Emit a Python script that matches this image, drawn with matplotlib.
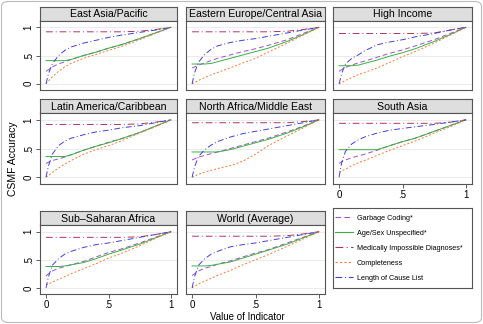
import matplotlib
matplotlib.use("Agg")
import matplotlib.pyplot as plt
from matplotlib.patches import FancyBboxPatch
from matplotlib.lines import Line2D

plt.rcParams['font.family'] = ['Liberation Sans', 'DejaVu Sans']

# ---- data ----
x_vals = [0, 0.02, 0.05, 0.1, 0.15, 0.2, 0.3, 0.4, 0.5, 0.6, 0.75, 0.875, 1]

regions = ['East Asia/Pacific', 'Eastern Europe/Central Asia', 'High Income',
           'Latin America/Caribbean', 'North Africa/Middle East', 'South Asia',
           'Sub\u2013Saharan Africa', 'World (Average)']

garbage = [
    [0.22, 0.25, 0.30, 0.35, 0.39, 0.43, 0.50, 0.56, 0.63, 0.69, 0.80, 0.90, 1],
    [0.28, 0.30, 0.33, 0.37, 0.41, 0.45, 0.51, 0.57, 0.62, 0.68, 0.78, 0.89, 1],
    [0.22, 0.25, 0.29, 0.33, 0.37, 0.40, 0.47, 0.54, 0.60, 0.67, 0.78, 0.89, 1],
    [0.24, 0.26, 0.29, 0.32, 0.35, 0.39, 0.47, 0.54, 0.61, 0.67, 0.78, 0.89, 1],
    [0.30, 0.32, 0.35, 0.38, 0.41, 0.44, 0.50, 0.56, 0.62, 0.68, 0.79, 0.89, 1],
    [0.24, 0.27, 0.30, 0.34, 0.37, 0.40, 0.47, 0.55, 0.62, 0.68, 0.80, 0.90, 1],
    [0.21, 0.25, 0.30, 0.35, 0.38, 0.41, 0.47, 0.55, 0.63, 0.69, 0.80, 0.90, 1],
    [0.22, 0.25, 0.30, 0.35, 0.38, 0.42, 0.48, 0.55, 0.62, 0.68, 0.80, 0.90, 1],
]
agesex = [
    [0.41, 0.41, 0.41, 0.41, 0.41, 0.43, 0.50, 0.56, 0.63, 0.69, 0.80, 0.90, 1],
    [0.35, 0.35, 0.35, 0.35, 0.36, 0.39, 0.45, 0.51, 0.57, 0.63, 0.75, 0.87, 1],
    [0.32, 0.32, 0.32, 0.32, 0.33, 0.36, 0.42, 0.49, 0.55, 0.62, 0.75, 0.87, 1],
    [0.36, 0.36, 0.36, 0.36, 0.36, 0.39, 0.47, 0.54, 0.60, 0.67, 0.78, 0.89, 1],
    [0.44, 0.44, 0.44, 0.44, 0.44, 0.44, 0.48, 0.54, 0.60, 0.66, 0.77, 0.88, 1],
    [0.48, 0.48, 0.48, 0.48, 0.48, 0.48, 0.48, 0.55, 0.62, 0.68, 0.80, 0.90, 1],
    [0.38, 0.38, 0.38, 0.38, 0.39, 0.41, 0.45, 0.52, 0.60, 0.67, 0.78, 0.89, 1],
    [0.39, 0.39, 0.39, 0.39, 0.40, 0.42, 0.46, 0.53, 0.60, 0.67, 0.78, 0.89, 1],
]
med_impossible = [
    [0.92, 0.92, 0.92, 0.92, 0.92, 0.92, 0.92, 0.92, 0.92, 0.92, 0.93, 0.96, 1],
    [0.92, 0.92, 0.92, 0.92, 0.92, 0.92, 0.92, 0.92, 0.92, 0.92, 0.93, 0.96, 1],
    [0.89, 0.89, 0.89, 0.89, 0.89, 0.89, 0.89, 0.89, 0.89, 0.89, 0.90, 0.95, 1],
    [0.92, 0.92, 0.92, 0.92, 0.92, 0.92, 0.92, 0.92, 0.92, 0.92, 0.93, 0.96, 1],
    [0.95, 0.95, 0.95, 0.95, 0.95, 0.95, 0.95, 0.95, 0.95, 0.95, 0.95, 0.97, 1],
    [0.94, 0.94, 0.94, 0.94, 0.94, 0.94, 0.94, 0.94, 0.94, 0.94, 0.94, 0.96, 1],
    [0.90, 0.90, 0.90, 0.90, 0.90, 0.90, 0.90, 0.90, 0.90, 0.90, 0.91, 0.95, 1],
    [0.92, 0.92, 0.92, 0.92, 0.92, 0.92, 0.92, 0.92, 0.92, 0.92, 0.93, 0.96, 1],
]
completeness = [
    [0.00, 0.05, 0.12, 0.22, 0.30, 0.36, 0.45, 0.52, 0.59, 0.66, 0.78, 0.89, 1],
    [0.00, 0.02, 0.06, 0.11, 0.16, 0.20, 0.28, 0.37, 0.45, 0.56, 0.72, 0.86, 1],
    [0.00, 0.02, 0.06, 0.11, 0.16, 0.20, 0.28, 0.38, 0.48, 0.57, 0.72, 0.86, 1],
    [0.00, 0.03, 0.08, 0.16, 0.23, 0.29, 0.40, 0.48, 0.55, 0.63, 0.77, 0.88, 1],
    [0.00, 0.02, 0.05, 0.09, 0.12, 0.15, 0.20, 0.28, 0.40, 0.55, 0.72, 0.86, 1],
    [0.09, 0.11, 0.14, 0.20, 0.25, 0.29, 0.38, 0.47, 0.55, 0.63, 0.77, 0.88, 1],
    [0.05, 0.07, 0.10, 0.15, 0.20, 0.25, 0.34, 0.43, 0.53, 0.61, 0.75, 0.88, 1],
    [0.00, 0.03, 0.07, 0.12, 0.17, 0.22, 0.31, 0.41, 0.50, 0.59, 0.74, 0.87, 1],
]
cause_list = [
    [0.00, 0.18, 0.35, 0.50, 0.59, 0.65, 0.72, 0.77, 0.82, 0.86, 0.91, 0.95, 1],
    [0.00, 0.20, 0.38, 0.52, 0.61, 0.67, 0.73, 0.77, 0.80, 0.84, 0.90, 0.95, 1],
    [0.00, 0.18, 0.35, 0.45, 0.51, 0.58, 0.69, 0.74, 0.78, 0.83, 0.89, 0.95, 1],
    [0.00, 0.20, 0.40, 0.55, 0.63, 0.68, 0.74, 0.79, 0.82, 0.86, 0.90, 0.95, 1],
    [0.00, 0.18, 0.36, 0.48, 0.56, 0.62, 0.70, 0.76, 0.80, 0.84, 0.90, 0.95, 1],
    [0.00, 0.25, 0.45, 0.58, 0.65, 0.70, 0.77, 0.82, 0.85, 0.88, 0.92, 0.96, 1],
    [0.00, 0.20, 0.40, 0.52, 0.60, 0.65, 0.72, 0.77, 0.80, 0.84, 0.90, 0.95, 1],
    [0.00, 0.20, 0.40, 0.52, 0.60, 0.65, 0.73, 0.77, 0.80, 0.84, 0.90, 0.95, 1],
]

series = [
    ('Garbage Coding*', garbage, '#a050c8', (0, (5, 3))),
    ('Age/Sex Unspecified*', agesex, '#3cb043', '-'),
    ('Medically Impossible Diagnoses*', med_impossible, '#b03458', (0, (7, 3, 1, 3))),
    ('Completeness', completeness, '#f07c3c', (0, (2, 2))),
    ('Length of Cause List', cause_list, '#4040d0', (0, (6, 2.5, 1, 2.5))),
]

# ---- layout (pixels) ----
W, H = 483, 324
fig = plt.figure(figsize=(W / 100, H / 100), dpi=100)
fig.patch.set_facecolor('white')
fig.patches.append(FancyBboxPatch((1.5 / W, 1.5 / H), (W - 3) / W, (H - 3) / H,
                                  boxstyle='round,pad=0,rounding_size=0.015',
                                  transform=fig.transFigure, fc='none',
                                  ec='#bbbbbb', lw=0.8))

cols = [(40, 177), (186, 325), (333, 472)]
rows = [(6.5, 20.5, 90), (99, 113, 183.5), (211, 225, 294)]
edge = '#555555'


def px_axes(x0, x1, y0, y1):
    return fig.add_axes([x0 / W, 1 - y1 / H, (x1 - x0) / W, (y1 - y0) / H])


for i, name in enumerate(regions):
    r, c = divmod(i, 3)
    x0, x1 = cols[c]
    st, sb, pb = rows[r]

    sax = px_axes(x0, x1, st, sb)
    sax.set_facecolor('#dedede')
    sax.set_xticks([])
    sax.set_yticks([])
    for sp in sax.spines.values():
        sp.set_color(edge)
        sp.set_linewidth(0.8)
    sax.text(0.5, 0.45, name, ha='center', va='center', fontsize=7.6,
             transform=sax.transAxes)

    ax = px_axes(x0, x1, sb, pb)
    for y in (0, 0.5, 1):
        ax.axhline(y, color='#e8e8e8', lw=0.6, zorder=0)
    for label, data, color, ls in series:
        ax.plot(x_vals, data[i], color=color, ls=ls, lw=0.7)
    ax.set_xlim(-0.048, 1.048)
    ax.set_ylim(-0.11, 1.12)
    for sp in ax.spines.values():
        sp.set_color(edge)
        sp.set_linewidth(0.8)
    ax.tick_params(length=3, width=0.6, color='#444444', labelsize=7, pad=1.5)

    if c == 0:
        ax.set_yticks([0, 0.5, 1])
        ax.set_yticklabels(['0', '.5', '1'], rotation=90, va='center')
    else:
        ax.set_yticks([])
    if r == 2 or (r == 1 and c == 2):
        ax.set_xticks([0, 0.5, 1])
        ax.set_xticklabels(['0', '.5', '1'])
    else:
        ax.set_xticks([])

# legend box
lax = px_axes(333, 472, 208, 288)
lax.set_xticks([])
lax.set_yticks([])
for sp in lax.spines.values():
    sp.set_color(edge)
    sp.set_linewidth(0.8)
handles = [Line2D([], [], color=color, ls=ls, lw=0.8) for _, _, color, ls in series]
labels = [label for label, _, _, _ in series]
lax.legend(handles, labels, loc='center left', frameon=False, fontsize=5.2,
           handlelength=2.4, handletextpad=0.6, labelspacing=1.1,
           borderaxespad=0.0, borderpad=0.3)

fig.text(13 / W, 1 - 159 / H, 'CSMF Accuracy', rotation=90, ha='center',
         va='center', fontsize=7.5)
fig.text(247 / W, 1 - 317 / H, 'Value of Indicator', ha='center', va='center',
         fontsize=7)

fig.savefig('out.png', dpi=100)
